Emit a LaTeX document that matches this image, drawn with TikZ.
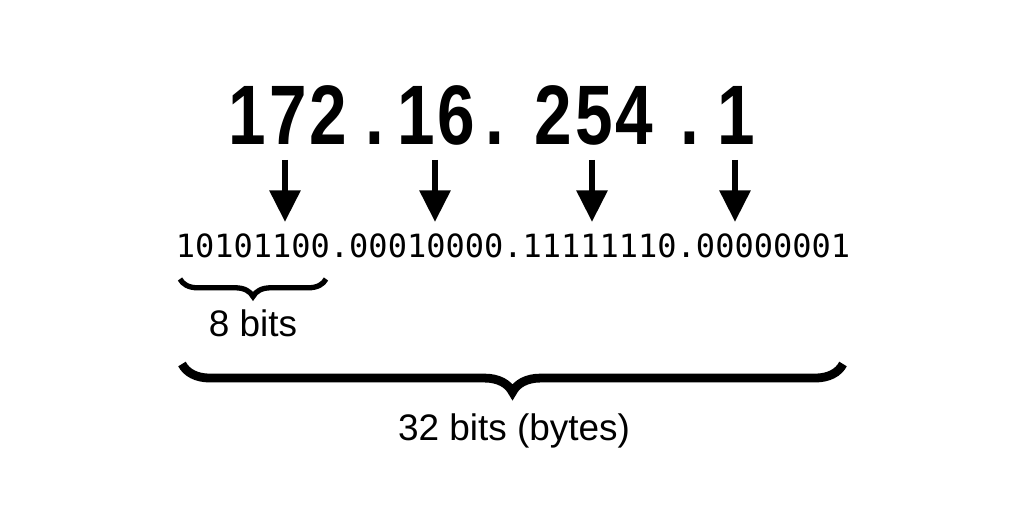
\documentclass[tikz,border=0pt]{standalone}
\usepackage{fontspec}
\setmainfont{Liberation Sans}
\newfontfamily\monof{DejaVu Sans Mono}
\usetikzlibrary{decorations.pathreplacing,arrows.meta}
\begin{document}
\begin{tikzpicture}[x=0.01cm,y=-0.01cm,
 big/.style={font=\fontsize{24}{24}\selectfont\bfseries,xscale=0.8,inner sep=0,anchor=base},
 arr/.style={line width=1.8pt,-{Triangle[length=9pt,width=8.5pt]}},
 lbl/.style={font=\fontsize{10.5}{12}\selectfont,inner sep=0,anchor=base}]
\useasboundingbox (0,0) rectangle (1024,531);
\node[big] (a) at (288,145) {1\hspace{1pt}7\hspace{1pt}2};
\node[big] (d1) at (375,145) {.};
\node[big] (b) at (436,145) {1\hspace{1pt}6};
\node[big] (d2) at (495,145) {.};
\node[big] (c) at (594,145) {2\hspace{1pt}5\hspace{1pt}4};
\node[big] (d3) at (690,145) {.};
\node[big] (e) at (736,145) {1};
\node[inner sep=0,anchor=base,font=\monof\fontsize{9.1}{10}\selectfont] (bin) at (513,258) {10101100.00010000.11111110.00000001};
\coordinate (t1) at (285,160); \coordinate (h1) at (285,222);
\coordinate (t2) at (435,160); \coordinate (h2) at (435,222);
\coordinate (t3) at (592,160); \coordinate (h3) at (592,222);
\coordinate (t4) at (735,160); \coordinate (h4) at (735,222);
\foreach \i in {1,2,3,4} \draw[arr] (t\i) -- (h\i);
\coordinate (s1) at (180,279); \coordinate (s2) at (326,279);
\draw[line width=1.5pt,decorate,decoration={brace,mirror,amplitude=5pt}] (s1) -- (s2);
\node[lbl] (eb) at (253,337) {8 bits};
\coordinate (l1) at (182,364); \coordinate (l2) at (843,364);
\draw[line width=2.5pt,decorate,decoration={brace,mirror,amplitude=8pt}] (l1) -- (l2);
\node[lbl] (tb) at (514,441) {32 bits (bytes)};
\end{tikzpicture}
\end{document}
